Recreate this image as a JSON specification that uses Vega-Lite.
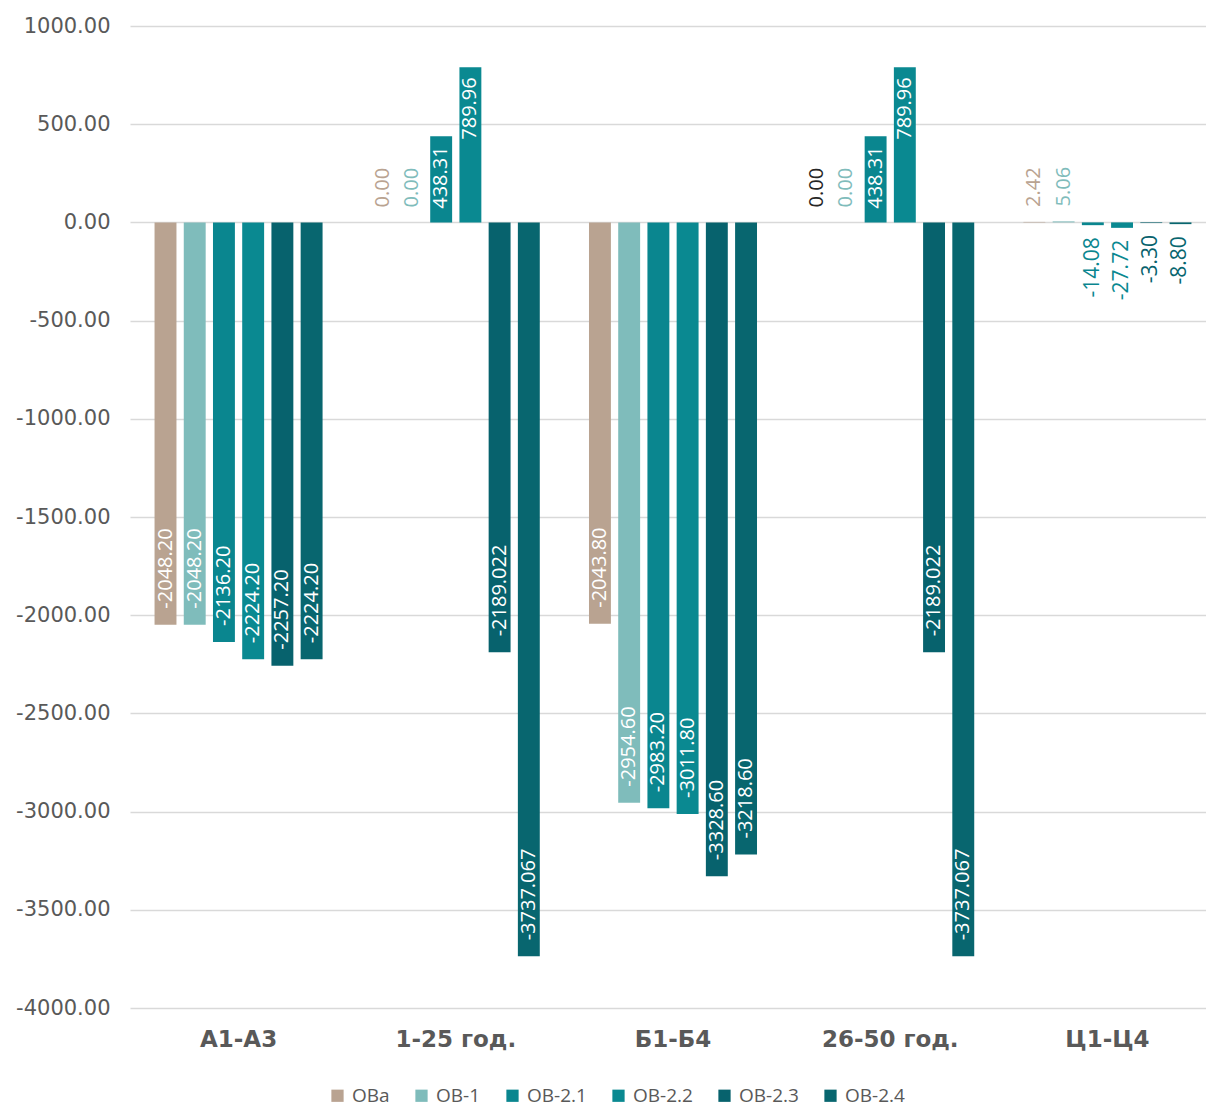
{
  "$schema": "https://vega.github.io/schema/vega-lite/v6.json",
  "autosize": {"type": "none"},
  "padding": {"left": 130, "top": 26, "right": 0, "bottom": 99},
  "width": 1076,
  "height": 982,
  "background": "white",
  "config": {
    "view": {"stroke": null},
    "axis": {"grid": true, "gridColor": "#d9d9d9", "gridWidth": 1.5, "domain": false, "ticks": false, "labelColor": "#595959", "titleColor": "#595959"}
  },
  "data": {
    "values": [
      {"cat": "А1-А3", "s": "ОВа", "value": -2048.20, "label": "-2048.20"},
      {"cat": "А1-А3", "s": "ОВ-1", "value": -2048.20, "label": "-2048.20"},
      {"cat": "А1-А3", "s": "ОВ-2.1", "value": -2136.20, "label": "-2136.20"},
      {"cat": "А1-А3", "s": "ОВ-2.2", "value": -2224.20, "label": "-2224.20"},
      {"cat": "А1-А3", "s": "ОВ-2.3", "value": -2257.20, "label": "-2257.20"},
      {"cat": "А1-А3", "s": "ОВ-2.4", "value": -2224.20, "label": "-2224.20"},
      {"cat": "1-25 год.", "s": "ОВа", "value": 0, "label": "0.00"},
      {"cat": "1-25 год.", "s": "ОВ-1", "value": 0, "label": "0.00"},
      {"cat": "1-25 год.", "s": "ОВ-2.1", "value": 438.31, "label": "438.31"},
      {"cat": "1-25 год.", "s": "ОВ-2.2", "value": 789.96, "label": "789.96"},
      {"cat": "1-25 год.", "s": "ОВ-2.3", "value": -2189.022, "label": "-2189.022"},
      {"cat": "1-25 год.", "s": "ОВ-2.4", "value": -3737.067, "label": "-3737.067"},
      {"cat": "Б1-Б4", "s": "ОВа", "value": -2043.80, "label": "-2043.80"},
      {"cat": "Б1-Б4", "s": "ОВ-1", "value": -2954.60, "label": "-2954.60"},
      {"cat": "Б1-Б4", "s": "ОВ-2.1", "value": -2983.20, "label": "-2983.20"},
      {"cat": "Б1-Б4", "s": "ОВ-2.2", "value": -3011.80, "label": "-3011.80"},
      {"cat": "Б1-Б4", "s": "ОВ-2.3", "value": -3328.60, "label": "-3328.60"},
      {"cat": "Б1-Б4", "s": "ОВ-2.4", "value": -3218.60, "label": "-3218.60"},
      {"cat": "26-50 год.", "s": "ОВа", "value": 0, "label": "0.00"},
      {"cat": "26-50 год.", "s": "ОВ-1", "value": 0, "label": "0.00"},
      {"cat": "26-50 год.", "s": "ОВ-2.1", "value": 438.31, "label": "438.31"},
      {"cat": "26-50 год.", "s": "ОВ-2.2", "value": 789.96, "label": "789.96"},
      {"cat": "26-50 год.", "s": "ОВ-2.3", "value": -2189.022, "label": "-2189.022"},
      {"cat": "26-50 год.", "s": "ОВ-2.4", "value": -3737.067, "label": "-3737.067"},
      {"cat": "Ц1-Ц4", "s": "ОВа", "value": 2.42, "label": "2.42"},
      {"cat": "Ц1-Ц4", "s": "ОВ-1", "value": 5.06, "label": "5.06"},
      {"cat": "Ц1-Ц4", "s": "ОВ-2.1", "value": -14.08, "label": "-14.08"},
      {"cat": "Ц1-Ц4", "s": "ОВ-2.2", "value": -27.72, "label": "-27.72"},
      {"cat": "Ц1-Ц4", "s": "ОВ-2.3", "value": -3.30, "label": "-3.30"},
      {"cat": "Ц1-Ц4", "s": "ОВ-2.4", "value": -8.80, "label": "-8.80"}
    ]
  },
  "encoding": {
    "x": {
      "field": "cat", "type": "nominal",
      "sort": ["А1-А3", "1-25 год.", "Б1-Б4", "26-50 год.", "Ц1-Ц4"],
      "scale": {"paddingInner": 0.2265, "paddingOuter": 0.113, "range": [0, 1086]},
      "axis": {"title": null, "grid": false, "labelAngle": 0, "labelFont": "DejaVu Sans", "labelFontSize": 23, "labelFontWeight": "bold", "labelPadding": 20}
    },
    "xOffset": {
      "field": "s", "type": "nominal",
      "sort": ["ОВа", "ОВ-1", "ОВ-2.1", "ОВ-2.2", "ОВ-2.3", "ОВ-2.4"],
      "scale": {"paddingInner": 0.25, "paddingOuter": 0}
    },
    "y": {
      "field": "value", "type": "quantitative",
      "scale": {"domain": [-4000, 1000], "nice": false},
      "axis": {"title": null, "values": [-4000, -3500, -3000, -2500, -2000, -1500, -1000, -500, 0, 500, 1000], "labelExpr": "replace(format(datum.value, '.2f'), '\u2212', '-')", "labelFont": "DejaVu Sans", "labelFontSize": 21, "labelPadding": 20}
    }
  },
  "layer": [
    {
      "mark": {"type": "bar"},
      "encoding": {
        "color": {
          "field": "s", "type": "nominal",
          "sort": ["ОВа", "ОВ-1", "ОВ-2.1", "ОВ-2.2", "ОВ-2.3", "ОВ-2.4"],
          "scale": {"domain": ["ОВа", "ОВ-1", "ОВ-2.1", "ОВ-2.2", "ОВ-2.3", "ОВ-2.4"], "range": ["#B9A391", "#7FBCBB", "#0A868F", "#0A8991", "#07626D", "#08666F"]},
          "legend": {
            "title": null, "orient": "none", "direction": "horizontal", "legendX": 198, "legendY": 1060,
            "symbolType": "square", "symbolSize": 150, "symbolStrokeWidth": 0,
            "labelFont": "Open Sans", "labelFontSize": 19, "labelColor": "#595959", "columnPadding": 22, "labelOffset": 5
          }
        }
      }
    },
    {
      "transform": [{"filter": "datum.value <= -100"}],
      "mark": {"type": "text", "angle": 270, "align": "left", "baseline": "middle", "dx": 16, "font": "Open Sans", "fontSize": 20, "color": "white"},
      "encoding": {"text": {"field": "label"}}
    },
    {
      "transform": [{"filter": "datum.value >= 100"}],
      "mark": {"type": "text", "angle": 270, "align": "right", "baseline": "middle", "dx": -10, "font": "Open Sans", "fontSize": 20, "color": "white"},
      "encoding": {"text": {"field": "label"}}
    },
    {
      "transform": [{"filter": "datum.value >= 0 && datum.value < 100"}],
      "mark": {"type": "text", "angle": 270, "align": "left", "baseline": "middle", "dx": 15, "font": "Open Sans", "fontSize": 20},
      "encoding": {
        "text": {"field": "label"},
        "color": {
          "condition": {"test": "datum.cat === '26-50 год.' && datum.s === 'ОВа'", "value": "#262626"},
          "field": "s", "type": "nominal", "legend": null
        }
      }
    },
    {
      "transform": [{"filter": "datum.value < 0 && datum.value > -100"}],
      "mark": {"type": "text", "angle": 270, "align": "right", "baseline": "middle", "dx": -12, "font": "Open Sans", "fontSize": 21},
      "encoding": {
        "text": {"field": "label"},
        "color": {"field": "s", "type": "nominal", "legend": null}
      }
    }
  ]
}
